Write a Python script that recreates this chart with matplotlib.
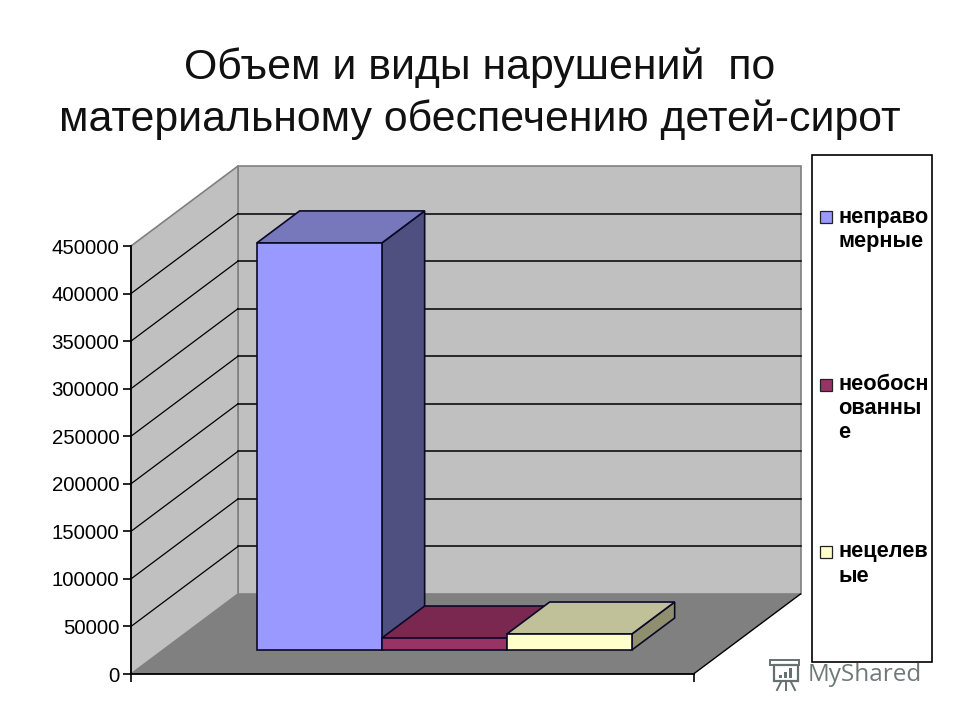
import matplotlib
matplotlib.use('Agg')
import matplotlib.pyplot as plt
from matplotlib.patches import Rectangle

plt.rcParams['font.family'] = ['Liberation Sans', 'DejaVu Sans']

# --- data ---
title_lines = ['Объем и виды нарушений  по', 'материальному обеспечению детей-сирот']
series_names = ['неправо\nмерные', 'необосн\nованны\nе', 'нецелев\nые']
series_values = [428000, 12600, 16800]
y_ticks = [0, 50000, 100000, 150000, 200000, 250000, 300000, 350000, 400000, 450000]

front_colors = ['#9999FF', '#993366', '#FFFFCC']
top_colors = ['#7777BB', '#7A2850', '#C0C099']
side_colors = ['#4F4F80', '#551D39', '#8F8F70']
edge = '#0A0A28'

# --- 3d look: depth as an offset in data units ---
Y_MAX = 450000
X_MAX = 4.5
AX_W = 562.5
DX = X_MAX * 107 / AX_W
DY = Y_MAX * 80 / 428
BAR_D0, BAR_D1 = 0.3, 0.7


def proj(x, y, d):
    return x + d * DX, y + d * DY


def face(ax, pts, color, ec='none', lw=1.2, z=2):
    xs, ys = zip(*[proj(*p) for p in pts])
    ax.fill(xs, ys, facecolor=color, edgecolor=ec, linewidth=lw, zorder=z,
            clip_on=False, joinstyle='miter')


fig = plt.figure(figsize=(9.6, 7.2), dpi=100, facecolor='white')
W, H = 960, 720
ax = fig.add_axes([131 / W, 1 - 674 / H, AX_W / W, 428 / H])
ax.set_xlim(0, X_MAX)
ax.set_ylim(0, Y_MAX)
ax.patch.set_visible(False)

# walls and floor
face(ax, [(0, 0, 1), (X_MAX, 0, 1), (X_MAX, Y_MAX, 1), (0, Y_MAX, 1)], '#C0C0C0', '#808080', 1.2, 1)
face(ax, [(0, 0, 0), (0, 0, 1), (0, Y_MAX, 1), (0, Y_MAX, 0)], '#C0C0C0', '#808080', 1.2, 1)
face(ax, [(0, 0, 0), (X_MAX, 0, 0), (X_MAX, 0, 1), (0, 0, 1)], '#808080', 'none', 1, 1.1)

# grid on side wall and back wall
for t in y_ticks[1:-1]:
    xs, ys = zip(proj(0, t, 0), proj(0, t, 1))
    ax.plot(xs, ys, color='black', lw=0.9, zorder=1.5, clip_on=False)
    xs, ys = zip(proj(0, t, 1), proj(X_MAX, t, 1))
    ax.plot(xs, ys, color='black', lw=1.1, zorder=1.5, clip_on=False)

# right floor edge
xs, ys = zip(proj(X_MAX, 0, 0), proj(X_MAX, 0, 1))
ax.plot(xs, ys, color='black', lw=1.0, zorder=1.5, clip_on=False)

# bars
for i, v in enumerate(series_values):
    x0, x1 = 0.75 + i, 1.75 + i
    z = 3 + i
    face(ax, [(x1, 0, BAR_D0), (x1, 0, BAR_D1), (x1, v, BAR_D1), (x1, v, BAR_D0)], side_colors[i], edge, z=z)
    face(ax, [(x0, v, BAR_D0), (x1, v, BAR_D0), (x1, v, BAR_D1), (x0, v, BAR_D1)], top_colors[i], edge, z=z)
    face(ax, [(x0, 0, BAR_D0), (x1, 0, BAR_D0), (x1, v, BAR_D0), (x0, v, BAR_D0)], front_colors[i], edge, z=z)

# axes
for s in ['top', 'right']:
    ax.spines[s].set_visible(False)
for s in ['left', 'bottom']:
    ax.spines[s].set_linewidth(1.3)
ax.set_yticks(y_ticks)
ax.set_yticklabels([str(t) for t in y_ticks], fontsize=14.7, color='black')
ax.set_xticks([0, X_MAX])
ax.set_xticklabels([])
ax.tick_params(axis='y', length=5.5, width=1.2, pad=3)
ax.tick_params(axis='x', length=5.5, width=1.2)

# overlay in pixel coordinates for title, legend, logo
ov = fig.add_axes([0, 0, 1, 1])
ov.set_xlim(0, W)
ov.set_ylim(H, 0)
ov.axis('off')
ov.patch.set_visible(False)

ov.text(480, 68, title_lines[0], ha='center', va='center', fontsize=30.8, color='#111111')
ov.text(480, 120, title_lines[1], ha='center', va='center', fontsize=30.8, color='#111111')

ov.add_patch(Rectangle((812, 155), 120, 507, fc='white', ec='black', lw=1.2))
legend_y = [217, 385, 552]
for name, c, y in zip(series_names, front_colors, legend_y):
    ov.add_patch(Rectangle((820, y - 6), 12, 12, fc=c, ec='#222222', lw=0.9))
    for j, line in enumerate(name.split('\n')):
        ov.text(838, y + j * 24, line, ha='left', va='center', fontsize=15.7,
                fontweight='bold', color='black')

# watermark
logo = '#66716F'
ov.add_patch(Rectangle((770, 660), 29, 5, fc='none', ec=logo, lw=1.4))
ov.add_patch(Rectangle((774, 665), 24, 16, fc='none', ec=logo, lw=1.6))
for bx, bh in zip([779, 784, 789], [3, 6, 10]):
    ov.add_patch(Rectangle((bx, 678 - bh), 3, bh, fc=logo, ec='none'))
for a, b in [(781, 777), (786, 786), (791, 795)]:
    ov.plot([a, b], [682, 690], color=logo, lw=1.4)
ov.text(808, 675, 'MyShared', ha='left', va='center', fontsize=17.5, family=['Open Sans', 'DejaVu Sans'],
        color='#6F7A78')

fig.savefig('out.png', dpi=100)
